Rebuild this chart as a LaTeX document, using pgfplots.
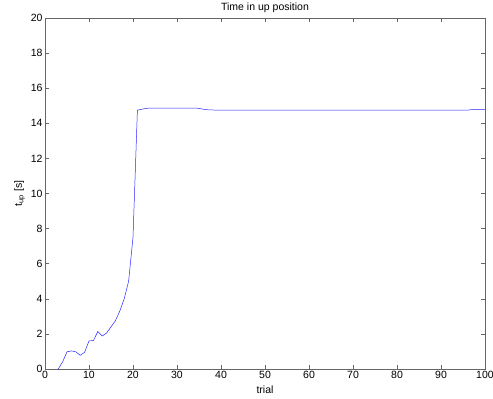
\documentclass[border=0pt]{standalone}
\usepackage{fontspec}
\setmainfont{Liberation Sans}
\usepackage{pgfplots}
\pgfplotsset{compat=1.18}
\begin{document}
\begin{tikzpicture}
\begin{axis}[
  scale only axis,
  width=440bp, height=351bp,
  xmin=0, xmax=100, ymin=0, ymax=20,
  xtick={0,10,...,100}, ytick={0,2,...,20},
  tick align=inside,
  tick pos=both,
  major tick length=4bp,
  axis line style={black!60, line width=0.6pt},
  tick style={black!60, line width=0.6pt},
  font=\fontsize{10.5bp}{12bp}\selectfont,
  tick label style={font=\fontsize{10.5bp}{12bp}\selectfont},
  /pgf/number format/assume math mode=true,
  xticklabel style={yshift=1bp},
  yticklabel style={xshift=1bp},
  title={Time in up position},
  title style={yshift=-4bp},
  xlabel={trial},
  xlabel style={yshift=0bp},
  ylabel={t\textsubscript{up} [s]},
  ylabel style={yshift=-1bp},
]
\addplot[blue!85!white, line width=0.5pt, mark=none] coordinates {
(3,0) (4,0.4) (5,0.98) (6,1.03) (7,0.98) (8,0.78) (9,0.95) (10,1.6) (11,1.62)
(12,2.13) (13,1.88) (14,2.05) (15,2.4) (16,2.75) (17,3.3) (18,4.0) (19,5.0)
(20,7.5) (21,14.75) (22,14.8) (23,14.85) (24,14.87) (25,14.87) (26,14.87)
(27,14.87) (28,14.87) (29,14.87) (30,14.87) (31,14.87) (32,14.87) (33,14.87)
(34,14.87) (35,14.85) (36,14.8) (37,14.77) (38,14.76) (39,14.75) (40,14.75)
(50,14.75) (60,14.75) (70,14.75) (80,14.75) (90,14.75) (96,14.75) (97,14.78)
(98,14.79) (99,14.79) (100,14.79)
};
\end{axis}
\pgfresetboundingbox
\path[use as bounding box] (-45bp,-30bp) rectangle (448bp,369bp);
\end{tikzpicture}
\end{document}
